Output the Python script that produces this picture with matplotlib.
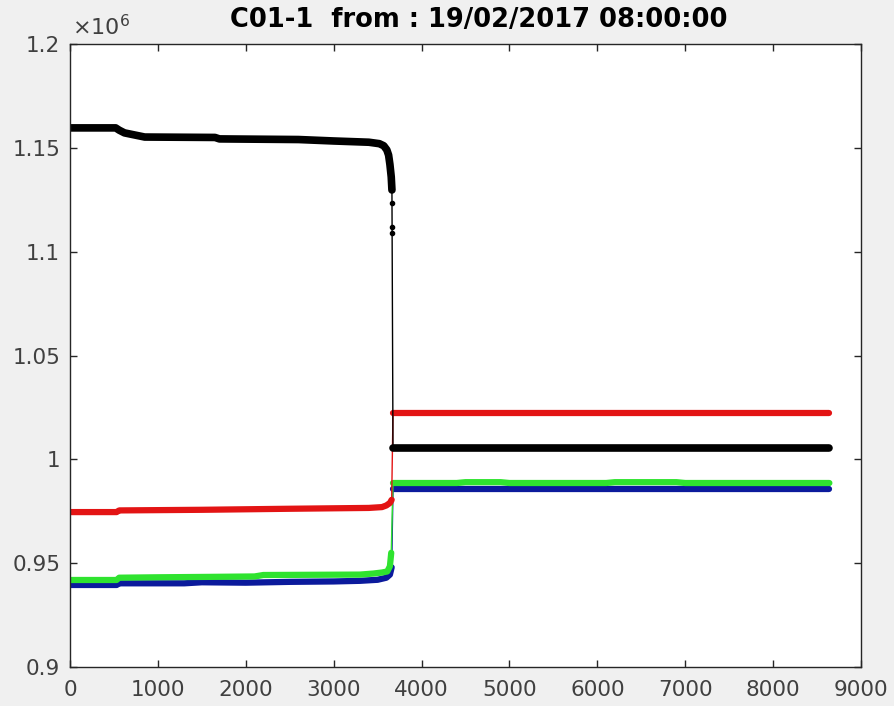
import matplotlib
matplotlib.use('Agg')
import matplotlib.pyplot as plt
from matplotlib.ticker import FuncFormatter

# values (sample index, raw value)
black_pre_x = [0, 520, 560, 620, 700, 850, 1650, 1700, 2600, 3000, 3400, 3520, 3570, 3605, 3625, 3640, 3655, 3663]
black_pre_y = [1159600, 1159600, 1158500, 1157200, 1156500, 1155200, 1155000, 1154300, 1154000, 1153300,
               1152700, 1152000, 1151000, 1149000, 1146500, 1142000, 1136000, 1129700]
black_drop_x = [3665, 3665, 3665]
black_drop_y = [1123400, 1111900, 1109000]
black_post_x = [3675, 8640]
black_post_y = [1005500, 1005500]

red_pre_x = [0, 530, 560, 1500, 2500, 3400, 3550, 3600, 3640, 3660]
red_pre_y = [974600, 974600, 975400, 975700, 976200, 976600, 977000, 977800, 979000, 980500]
red_post_x = [3675, 8640]
red_post_y = [1022300, 1022300]

green_pre_x = [0, 530, 560, 1000, 1600, 2100, 2200, 3300, 3450, 3550, 3610, 3640, 3655]
green_pre_y = [941900, 941900, 943000, 943200, 943400, 943600, 944300, 944500, 945000, 945500, 946000, 948500, 955000]
green_post_x = [3675, 4400, 4500, 4900, 5000, 6100, 6200, 6900, 7000, 8640]
green_post_y = [988600, 988600, 989000, 989000, 988600, 988600, 989000, 989000, 988600, 988600]

blue_pre_x = [0, 530, 560, 1300, 1500, 2000, 2500, 3000, 3300, 3500, 3600, 3640, 3660]
blue_pre_y = [939500, 939500, 940300, 940300, 940800, 940600, 941000, 941200, 941500, 942000, 943000, 944500, 948000]
blue_post_x = [3675, 8640]
blue_post_y = [985700, 985700]

series = [
    ('#0b1a9c', blue_pre_x, blue_pre_y, blue_post_x, blue_post_y, 4.5),
    ('#2fe32f', green_pre_x, green_pre_y, green_post_x, green_post_y, 4.5),
    ('#e31414', red_pre_x, red_pre_y, red_post_x, red_post_y, 4.5),
    ('#000000', black_pre_x, black_pre_y, black_post_x, black_post_y, 5.5),
]

plt.rcParams['font.family'] = 'DejaVu Sans'
fig = plt.figure(figsize=(8.94, 7.06), dpi=100, facecolor='#f0f0f0')
ax = fig.add_axes([70 / 894, 1 - 667 / 706, 791 / 894, 623 / 706])
ax.set_facecolor('white')

for color, xp, yp, xq, yq, lw in series:
    ax.plot(xp, yp, color=color, lw=lw, solid_capstyle='round', solid_joinstyle='round')
    ax.plot([xp[-1], xq[0]], [yp[-1], yq[0]], color=color, lw=1)
    ax.plot(xq, yq, color=color, lw=lw, solid_capstyle='round')

ax.plot(black_drop_x, black_drop_y, 'k.', ms=6)

ax.set_xlim(0, 9000)
ax.set_ylim(900000, 1200000)
ax.set_xticks(range(0, 9001, 1000))
ax.set_yticks([900000, 950000, 1000000, 1050000, 1100000, 1150000, 1200000])
ax.yaxis.set_major_formatter(FuncFormatter(lambda v, p: '%g' % round(v / 1e6, 4)))

grey = '#262626'
ax.tick_params(direction='in', top=True, right=True, length=5, width=1,
               colors=grey, labelsize=15.5, labelcolor='#404040')
ax.tick_params(axis='x', pad=9)
ax.tick_params(axis='y', pad=7)
for s in ax.spines.values():
    s.set_color(grey)
    s.set_linewidth(1)

ax.text(0.003, 1.008, r'$\times10^{6}$', transform=ax.transAxes, fontsize=16,
        color='#404040', ha='left', va='bottom')
ax.set_title('C01-1  from : 19/02/2017 08:00:00', fontsize=18.5, fontweight='bold',
             x=0.517, pad=12)

fig.savefig('out.png', dpi=100, facecolor=fig.get_facecolor())
